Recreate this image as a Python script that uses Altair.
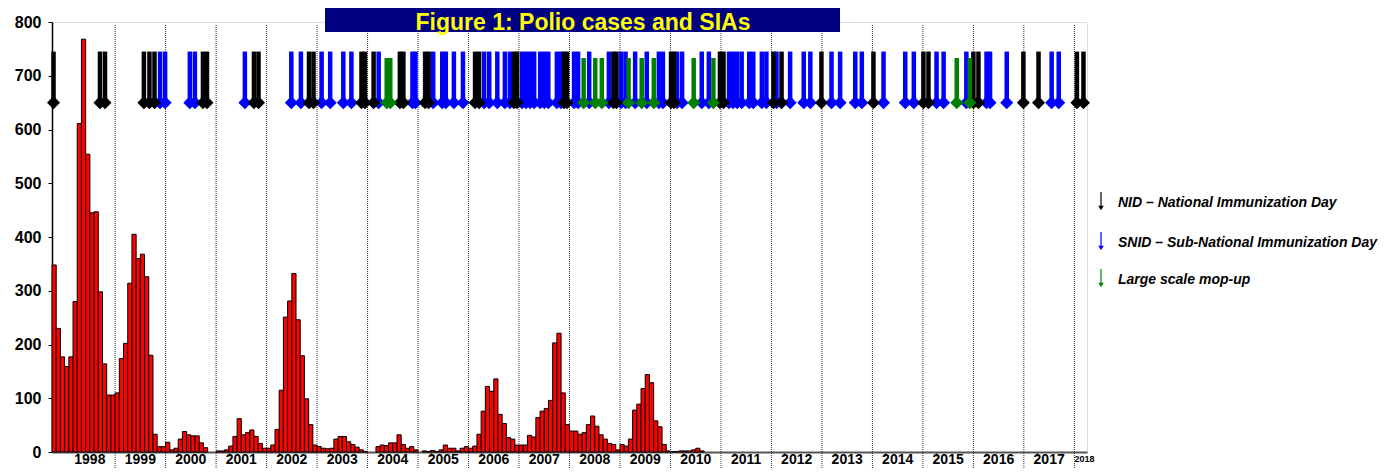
import altair as alt
import pandas as pd

# ---------------- data ----------------
title_text = "Figure 1: Polio cases and SIAs"

label_years = list(range(1998, 2018))        # year labels under the axis
boundary_years = list(range(1999, 2019))     # dotted year separators

cases_1997 = [348, 230, 177]                 # Oct-Dec 1997
cases_1998 = [159, 177, 280, 611, 768, 554, 445, 447, 298, 164, 106, 106]
cases_1999 = [110, 174, 202, 314, 405, 360, 368, 326, 180, 33, 10, 10]
cases_2000 = [18, 4, 7, 24, 38, 32, 30, 30, 17, 8, 0, 0]
cases_2001 = [2, 2, 4, 11, 29, 62, 32, 36, 41, 29, 16, 7]
cases_2002 = [7, 13, 42, 115, 251, 281, 332, 246, 179, 99, 51, 13]
cases_2003 = [10, 7, 6, 7, 24, 29, 29, 19, 14, 9, 4, 1]
cases_2004 = [0, 0, 10, 13, 12, 17, 17, 32, 14, 7, 10, 4]
cases_2005 = [0, 2, 1, 3, 1, 4, 13, 7, 7, 2, 7, 10]
cases_2006 = [7, 11, 33, 76, 122, 113, 136, 70, 53, 27, 24, 13]
cases_2007 = [13, 13, 31, 28, 64, 76, 81, 96, 203, 221, 110, 51]
cases_2008 = [39, 39, 33, 36, 51, 67, 48, 32, 24, 16, 14, 4]
cases_2009 = [14, 11, 24, 78, 89, 118, 144, 129, 58, 47, 14, 2]
cases_2010 = [1, 1, 2, 2, 2, 4, 7, 2, 0, 0, 0, 0]

# SIA dates (decimal years)
nid_dates = [1997.78, 1998.70, 1998.80, 1999.57, 1999.68, 1999.78, 2000.74, 2000.82,
             2001.75, 2001.84, 2002.84, 2002.93, 2003.88, 2003.95, 2004.12, 2004.64,
             2004.71, 2005.14, 2005.21, 2006.13, 2006.21, 2006.90, 2006.96, 2007.89,
             2007.95, 2008.87, 2008.93, 2010.01, 2010.07, 2010.98, 2011.05, 2012.04,
             2012.20, 2012.99, 2014.02, 2015.01, 2015.11, 2016.00, 2016.10, 2016.99,
             2017.29, 2018.05, 2018.18]
snid_dates = [1999.89, 1999.99, 2000.48, 2000.58, 2001.57, 2002.49, 2002.68, 2003.09,
              2003.26, 2003.52, 2003.68, 2004.22, 2004.89, 2004.95, 2005.30, 2005.48,
              2005.55, 2005.71, 2005.89, 2006.31, 2006.41, 2006.57, 2006.72, 2006.82,
              2007.06, 2007.14, 2007.22, 2007.30, 2007.42, 2007.50, 2007.58, 2007.75,
              2007.83, 2008.09, 2008.17, 2008.39, 2008.78, 2009.02, 2009.11, 2009.30,
              2009.53, 2009.77, 2009.85, 2010.13, 2010.23, 2010.62, 2010.76, 2011.16,
              2011.24, 2011.32, 2011.41, 2011.56, 2011.64, 2011.81, 2011.90, 2012.10,
              2012.37, 2012.64, 2012.77, 2013.19, 2013.36, 2013.66, 2013.79, 2014.22,
              2014.65, 2014.82, 2015.27, 2015.41, 2015.86, 2016.26, 2016.33, 2016.66,
              2017.55, 2017.69]
mopup_dates = [2004.38, 2004.45, 2008.28, 2008.51, 2008.64, 2009.17, 2009.43, 2009.67,
               2010.46, 2010.85, 2015.67, 2015.93]

arrow_kinds = ["SNID", "NID", "Mop-up"]
arrow_colors = ["#0000ff", "#000000", "#008000"]
arrow_tops = [745, 745, 733]
arrow_head = 650

legend_labels = ["NID \u2013 National Immunization Day",
                 "SNID \u2013 Sub-National Immunization Day",
                 "Large scale mop-up"]
legend_colors = ["#000000", "#0000ff", "#008000"]

y_ticks = list(range(0, 801, 100))

# ---------------- tables ----------------
rows = []
for i, v in enumerate(cases_1997):
    rows.append({"start": 1997.75 + i / 12, "end": 1997.75 + (i + 1) / 12, "cases": v})
yearly = [(1998, cases_1998), (1999, cases_1999), (2000, cases_2000), (2001, cases_2001),
          (2002, cases_2002), (2003, cases_2003), (2004, cases_2004), (2005, cases_2005),
          (2006, cases_2006), (2007, cases_2007), (2008, cases_2008), (2009, cases_2009),
          (2010, cases_2010)]
for yr, vals in yearly:
    for i, v in enumerate(vals):
        rows.append({"start": yr + i / 12, "end": yr + (i + 1) / 12, "cases": v})
bar_df = pd.DataFrame(rows)
bar_df = bar_df[bar_df["cases"] > 0]

arrow_rows = []
for kind, top, dates in zip(arrow_kinds, arrow_tops, [snid_dates, nid_dates, mopup_dates]):
    for d in dates:
        arrow_rows.append({"date": d, "kind": kind, "top": top})
arrow_df = pd.DataFrame(arrow_rows)

label_df = pd.DataFrame({"year": label_years})
bound_df = pd.DataFrame({"yr": boundary_years})
x_tick_vals = sorted([y + 0.25 for y in label_years] + [y + 0.75 for y in label_years])

# ---------------- chart ----------------
W, H = 1035, 430
FONT = "Liberation Sans"
x_scale = alt.Scale(domain=[1997.75, 2018.25], nice=False, zero=False)
y_scale = alt.Scale(domain=[0, 800], nice=False, zero=True)
color_scale = alt.Scale(domain=arrow_kinds, range=arrow_colors)

x_axis = alt.Axis(values=x_tick_vals, labels=False, tickSize=4, grid=False, title=None,
                  domainColor="#555555", domainWidth=2, tickColor="#555555")
y_axis = alt.Axis(values=y_ticks, grid=False, title=None, tickSize=4, tickColor="#000000",
                  domainColor="#000000", domainWidth=1.5, labelFontSize=16,
                  labelFontWeight="bold", labelColor="#000000", labelFont=FONT,
                  labelPadding=7)

vlines = alt.Chart(bound_df).mark_rule(color="#333333", strokeDash=[1, 1], strokeWidth=1).encode(
    x=alt.X("yr:Q", scale=x_scale, axis=x_axis),
    y=alt.value(3),
    y2=alt.value(H + 40),
)

bars = alt.Chart(bar_df).mark_rect(color="#ff0000", stroke="#000000", strokeWidth=1).encode(
    x=alt.X("start:Q", scale=x_scale, axis=x_axis),
    x2="end:Q",
    y=alt.Y("cases:Q", scale=y_scale, axis=y_axis),
    y2=alt.datum(0),
)

arrow_lines = alt.Chart(arrow_df).mark_rule(strokeWidth=4.5).encode(
    x=alt.X("date:Q", scale=x_scale),
    y=alt.Y("top:Q", scale=y_scale),
    y2=alt.datum(arrow_head),
    color=alt.Color("kind:N", scale=color_scale, legend=None),
)

arrow_heads = alt.Chart(arrow_df).mark_point(shape="diamond", filled=True, size=170, opacity=1).encode(
    x=alt.X("date:Q", scale=x_scale),
    y=alt.datum(arrow_head),
    color=alt.Color("kind:N", scale=color_scale, legend=None),
)

year_labels = alt.Chart(label_df).transform_calculate(mid="datum.year + 0.5").mark_text(
    font=FONT, fontSize=14, fontWeight="bold", color="#000000", baseline="alphabetic"
).encode(
    x=alt.X("mid:Q", scale=x_scale),
    y=alt.value(H + 12),
    text="year:N",
)

label_2018 = alt.Chart(pd.DataFrame({"year": [2018]})).transform_calculate(pos="datum.year + 0.2").mark_text(
    font=FONT, fontSize=9, fontWeight="bold", color="#000000", baseline="alphabetic"
).encode(
    x=alt.X("pos:Q", scale=x_scale),
    y=alt.value(H + 10),
    text="year:N",
)

title_df = pd.DataFrame({"t": [title_text]})
title_box = alt.Chart(title_df).mark_rect(color="#000080").encode(
    x=alt.value(273), x2=alt.value(788), y=alt.value(-14), y2=alt.value(10)
)
title_txt = alt.Chart(title_df).mark_text(
    font=FONT, fontSize=23, fontWeight="bold", color="#ffff00", align="center", baseline="alphabetic"
).encode(x=alt.value(531), y=alt.value(7.5), text="t:N")

legend_layers = []
for i, (lab, col) in enumerate(zip(legend_labels, legend_colors)):
    ldf = pd.DataFrame({"label": [lab]})
    ypos = [181, 221, 258][i]
    legend_layers.append(
        alt.Chart(ldf).mark_rule(color=col, strokeWidth=1.2).encode(
            x=alt.value(1049), y=alt.value(ypos - 11), y2=alt.value(ypos + 4)
        )
    )
    legend_layers.append(
        alt.Chart(ldf).mark_point(shape="triangle-down", filled=True, size=30, color=col, opacity=1).encode(
            x=alt.value(1049), y=alt.value(ypos + 5)
        )
    )
    legend_layers.append(
        alt.Chart(ldf).mark_text(font=FONT, fontSize=14, fontStyle="italic", fontWeight="bold",
                                 color="#000000", align="left", baseline="middle").encode(
            x=alt.value(1066), y=alt.value(ypos), text="label:N"
        )
    )

chart = alt.layer(
    vlines, bars, arrow_lines, arrow_heads, year_labels, label_2018, title_box, title_txt, *legend_layers
).resolve_scale(x="shared", y="shared").properties(
    width=W, height=H,
    autosize=alt.AutoSizeParams(type="none"),
    padding={"left": 44, "top": 14, "right": 293, "bottom": 16},
).configure_view(stroke="#808080", strokeWidth=2).configure(background="#ffffff")

chart.save("out.html", embed_options={"renderer": "svg", "actions": False})
